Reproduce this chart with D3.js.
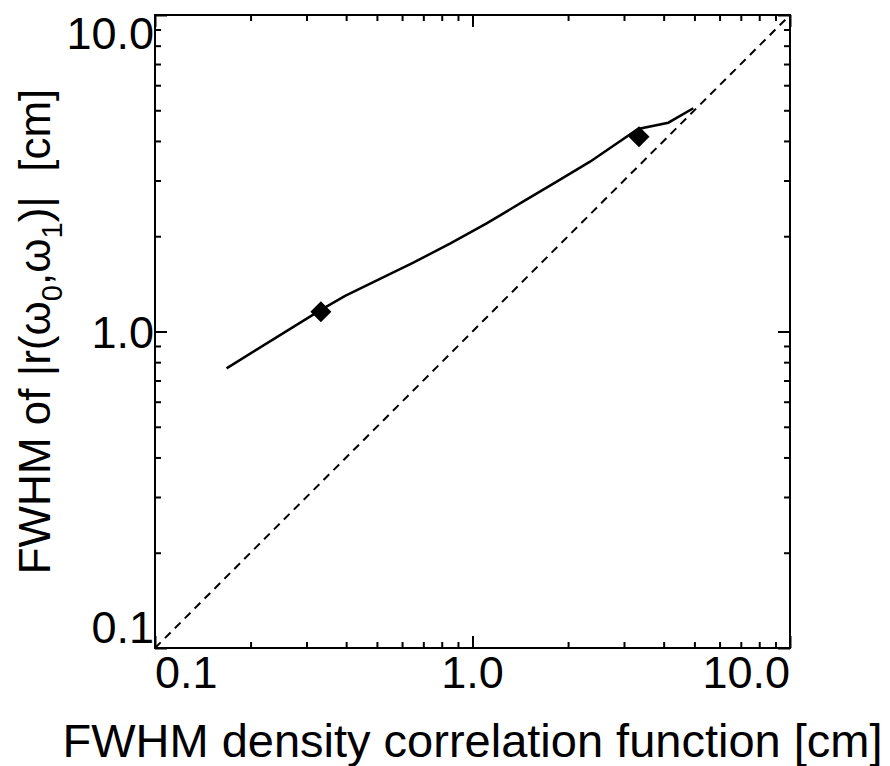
<!DOCTYPE html>
<html>
<head>
<meta charset="utf-8">
<script src="https://cdn.jsdelivr.net/npm/d3@7"></script>
<style>
  body { margin: 0; background: white; }
  text { font-family: "Liberation Sans", Arial, Helvetica, sans-serif; fill: black; }
</style>
</head>
<body>
<svg id="chart" width="890" height="766"></svg>
<script>
// FWHM values (cm)
var lineX = [0.168, 0.333, 0.397, 0.651, 0.849, 1.108, 1.442, 1.842, 2.345, 3.321, 4.137, 4.960]
var lineY = [0.765, 1.17, 1.295, 1.650, 1.895, 2.195, 2.572, 2.974, 3.44, 4.363, 4.568, 5.073]
var diamondX = [0.333, 3.345]
var diamondY = [1.155, 4.126]
var majorTicks = [0.1, 1, 10]
var minorTicks = [0.2, 0.3, 0.4, 0.5, 0.6, 0.7, 0.8, 0.9, 2, 3, 4, 5, 6, 7, 8, 9]
var tickLabels = ["0.1", "1.0", "10.0"]

var svg = d3.select("#chart")
var dims = {left: 155, right: 790, top: 15, bottom: 648}

var xScale = d3.scaleLog().domain([0.1, 10]).range([dims.left, dims.right])
var yScale = d3.scaleLog().domain([0.1, 10]).range([dims.bottom, dims.top])

// inward ticks on all four sides
function addTicks(axisFn, scale, values, size, transform) {
    var g = svg.append("g")
        .attr("transform", transform)
        .call(axisFn(scale).tickValues(values).tickSize(size).tickFormat(""))
    g.select(".domain").remove()
    g.selectAll("line").attr("stroke", "black").attr("stroke-width", 2)
}
addTicks(d3.axisBottom, xScale, majorTicks, -12, `translate(0,${dims.bottom})`)
addTicks(d3.axisBottom, xScale, minorTicks, -6, `translate(0,${dims.bottom})`)
addTicks(d3.axisTop, xScale, majorTicks, -12, `translate(0,${dims.top})`)
addTicks(d3.axisTop, xScale, minorTicks, -6, `translate(0,${dims.top})`)
addTicks(d3.axisLeft, yScale, majorTicks, -12, `translate(${dims.left},0)`)
addTicks(d3.axisLeft, yScale, minorTicks, -6, `translate(${dims.left},0)`)
addTicks(d3.axisRight, yScale, majorTicks, -12, `translate(${dims.right},0)`)
addTicks(d3.axisRight, yScale, minorTicks, -6, `translate(${dims.right},0)`)

svg.append("rect")
    .attr("x", dims.left).attr("y", dims.top)
    .attr("width", dims.right - dims.left).attr("height", dims.bottom - dims.top)
    .attr("fill", "none").attr("stroke", "black").attr("stroke-width", 2)

// tick labels (ends kept inside the frame like the original)
var xAnchors = ["start", "middle", "end"]
svg.append("g").selectAll("text")
    .data(majorTicks)
    .enter().append("text")
    .attr("x", (d, i) => xScale(d) + (i === 0 ? 0 : 0))
    .attr("y", 688)
    .attr("text-anchor", (d, i) => xAnchors[i])
    .attr("font-size", 45)
    .text((d, i) => tickLabels[i])

var yShift = [-5, 16, 34]
svg.append("g").selectAll("text")
    .data(majorTicks)
    .enter().append("text")
    .attr("x", 154)
    .attr("y", (d, i) => yScale(d) + yShift[i])
    .attr("text-anchor", "end")
    .attr("font-size", 45)
    .text((d, i) => tickLabels[i])

// one-to-one dashed line
svg.append("line")
    .attr("x1", xScale(0.1)).attr("y1", yScale(0.1))
    .attr("x2", xScale(10)).attr("y2", yScale(10))
    .attr("stroke", "black").attr("stroke-width", 2)
    .attr("stroke-dasharray", "8,6")

var lineData = lineX.map((x, i) => [x, lineY[i]])
svg.append("path")
    .datum(lineData)
    .attr("fill", "none").attr("stroke", "black").attr("stroke-width", 2.5)
    .attr("d", d3.line().x(d => xScale(d[0])).y(d => yScale(d[1])))

svg.append("g").selectAll("path")
    .data(diamondX)
    .enter().append("path")
    .attr("transform", (d, i) => `translate(${xScale(d)},${yScale(diamondY[i])})`)
    .attr("d", "M0,-10.5L10.5,0L0,10.5L-10.5,0Z")
    .attr("fill", "black")

// axis titles
svg.append("text")
    .attr("x", (dims.left + dims.right) / 2)
    .attr("y", 757)
    .attr("text-anchor", "middle")
    .attr("font-size", 47)
    .text("FWHM density correlation function [cm]")

var yTitle = svg.append("text")
    .attr("transform", `translate(50,${(dims.top + dims.bottom) / 2}) rotate(-90)`)
    .attr("text-anchor", "middle")
    .attr("font-size", 44)
    .style("white-space", "pre")
yTitle.append("tspan").text("FWHM of |r(\u03c9")
yTitle.append("tspan").attr("font-size", 29).attr("dy", 12).text("0")
yTitle.append("tspan").attr("dy", -12).text(",\u03c9")
yTitle.append("tspan").attr("font-size", 29).attr("dy", 12).text("1")
yTitle.append("tspan").attr("dy", -12).text(")|  [cm]")
</script>
</body>
</html>
